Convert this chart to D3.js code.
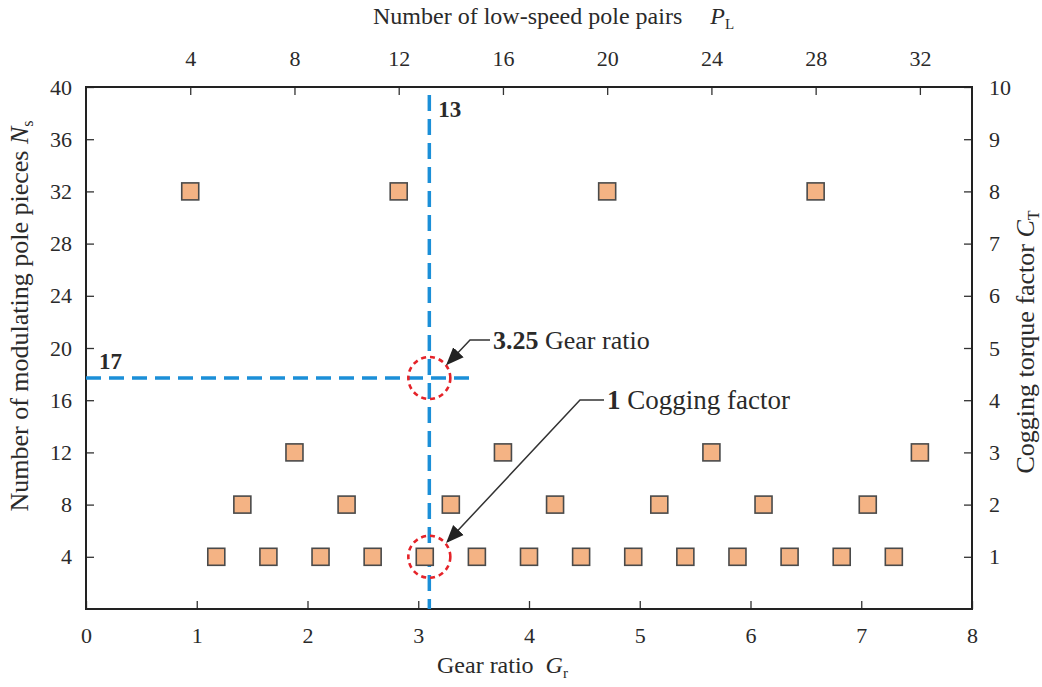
<!DOCTYPE html>
<html><head><meta charset="utf-8">
<script src="https://cdn.jsdelivr.net/npm/d3@7/dist/d3.min.js"></script>
<style>
body{margin:0;background:#fff;}
svg text{font-family:"Liberation Serif","Times New Roman",serif;fill:#2a2a2a;}
</style></head>
<body><svg id="c" width="1042" height="687"></svg>
<script>
// ---- data ----
const gearTicks = [0,1,2,3,4,5,6,7,8];
const plTicks = [4,8,12,16,20,24,28,32];
const nsTicks = [4,8,12,16,20,24,28,32,36,40];
const ctTicks = [1,2,3,4,5,6,7,8,9,10];
// rows of squares: pole pieces Ns and the low-speed pole pairs PL where they sit
const rowNs = [4, 8, 12, 32];
const rowPL = [
  [5,7,9,11,13,15,17,19,21,23,25,27,29,31],
  [6,10,14,18,22,26,30],
  [8,16,24,32],
  [4,12,20,28]
];
const markerGr = 3.1;     // vertical dashed marker (gear ratio axis)
const markerNs = 17.7;    // horizontal dashed marker (pole pieces axis)
const markerLabelV = "13";
const markerLabelH = "17";

// ---- layout ----
const svg = d3.select("#c");
const L=86, R=972, T=87, B=609;
const x = d3.scaleLinear().domain([0,8]).range([L,R]);
const xTop = d3.scaleLinear().domain([0,34]).range([L,R]);
const y = d3.scaleLinear().domain([0,40]).range([B,T]);
const yR = d3.scaleLinear().domain([0,10]).range([B,T]);
const FS = 22, TFS = 24, VFS = 26, AFS = 26;

function styleAxis(g){
  g.select(".domain").remove();
  g.selectAll(".tick line").attr("stroke","#333").attr("stroke-width",1.3);
  g.selectAll(".tick text").attr("font-size",FS).attr("fill","#2a2a2a")
    .attr("font-family","Liberation Serif, serif");
}
svg.append("g").attr("transform",`translate(0,${B})`)
  .call(d3.axisBottom(x).tickValues(gearTicks).tickSizeInner(-8).tickSizeOuter(0).tickPadding(18).tickFormat(d3.format("d")))
  .call(styleAxis);
svg.append("g").attr("transform",`translate(0,${T})`)
  .call(d3.axisTop(xTop).tickValues(plTicks).tickSizeInner(-8).tickSizeOuter(0).tickPadding(21).tickFormat(d3.format("d")))
  .call(styleAxis);
svg.append("g").attr("transform",`translate(${L},0)`)
  .call(d3.axisLeft(y).tickValues(nsTicks).tickSizeInner(-8).tickSizeOuter(0).tickPadding(14).tickFormat(d3.format("d")))
  .call(styleAxis);
svg.append("g").attr("transform",`translate(${R},0)`)
  .call(d3.axisRight(yR).tickValues(ctTicks).tickSizeInner(-8).tickSizeOuter(0).tickPadding(17).tickFormat(d3.format("d")))
  .call(styleAxis);

// frame
svg.append("rect").attr("x",L).attr("y",T).attr("width",R-L).attr("height",B-T)
  .attr("fill","none").attr("stroke","#222").attr("stroke-width",2);

// titles
const tt = svg.append("text").attr("x",373).attr("y",24).attr("font-size",TFS);
tt.append("tspan").text("Number of low-speed pole pairs");
tt.append("tspan").attr("dx",28).attr("font-style","italic").text("P");
tt.append("tspan").attr("font-size",15).attr("dy",5).text("L");

const bt = svg.append("text").attr("x",437).attr("y",673).attr("font-size",TFS);
bt.append("tspan").text("Gear ratio");
bt.append("tspan").attr("dx",12).attr("font-style","italic").text("G");
bt.append("tspan").attr("font-size",15).attr("dy",5).text("r");

const lt = svg.append("text").attr("transform","translate(28,316) rotate(-90)")
  .attr("text-anchor","middle").attr("font-size",VFS);
lt.append("tspan").text("Number of modulating pole pieces ");
lt.append("tspan").attr("font-style","italic").text("N");
lt.append("tspan").attr("font-size",16).attr("dy",5).text("s");

const rt = svg.append("text").attr("transform","translate(1034,342) rotate(-90)")
  .attr("text-anchor","middle").attr("font-size",VFS);
rt.append("tspan").text("Cogging torque factor ");
rt.append("tspan").attr("font-style","italic").text("C");
rt.append("tspan").attr("font-size",16).attr("dy",5).text("T");

// dashed markers
svg.append("line").attr("x1",x(markerGr)).attr("x2",x(markerGr)).attr("y1",95).attr("y2",B)
  .attr("stroke","#1b8fd8").attr("stroke-width",3.5).attr("stroke-dasharray","16,8");
svg.append("line").attr("x1",L).attr("x2",x(3.5)).attr("y1",y(markerNs)).attr("y2",y(markerNs))
  .attr("stroke","#1b8fd8").attr("stroke-width",3.5).attr("stroke-dasharray","15,8");

svg.append("text").attr("x",x(markerGr)+9).attr("y",117).attr("font-size",23).attr("font-weight","bold").text(markerLabelV);
svg.append("text").attr("x",99).attr("y",369).attr("font-size",23).attr("font-weight","bold").text(markerLabelH);

// squares
const pts = [];
rowNs.forEach((ns,i)=>rowPL[i].forEach(pl=>pts.push({pl,ns})));
const S = 17;
svg.append("g").selectAll("rect").data(pts).join("rect")
  .attr("x",d=>xTop(d.pl)-S/2).attr("y",d=>y(d.ns)-S/2)
  .attr("width",S).attr("height",S)
  .attr("fill","#f4b384").attr("stroke","#4a4a4a").attr("stroke-width",1.6);

// red circles
[markerNs, 4].forEach(ns=>{
  svg.append("circle").attr("cx",x(markerGr)).attr("cy",y(ns)).attr("r",21)
    .attr("fill","none").attr("stroke","#e52329").attr("stroke-width",2.6).attr("stroke-dasharray","5,4");
});

// arrows
const defs = svg.append("defs");
defs.append("marker").attr("id","ah").attr("viewBox","0 0 10 10").attr("refX",9).attr("refY",5)
  .attr("markerWidth",18).attr("markerHeight",18).attr("orient","auto")
  .attr("markerUnits","userSpaceOnUse")
  .append("path").attr("d","M0,1 L10,5 L0,9 Z").attr("fill","#222");

const cx = x(markerGr);
svg.append("path").attr("d",`M490,340 L470,340 L${cx+18},${y(markerNs)-14}`)
  .attr("fill","none").attr("stroke","#333").attr("stroke-width",1.5).attr("marker-end","url(#ah)");
svg.append("path").attr("d",`M604,400 L580,400 L${cx+18},${y(4)-15}`)
  .attr("fill","none").attr("stroke","#333").attr("stroke-width",1.5).attr("marker-end","url(#ah)");

const a1 = svg.append("text").attr("x",493).attr("y",349).attr("font-size",AFS);
a1.append("tspan").attr("font-weight","bold").text("3.25");
a1.append("tspan").text(" Gear ratio");
const a2 = svg.append("text").attr("x",607).attr("y",409).attr("font-size",27);
a2.append("tspan").attr("font-weight","bold").text("1");
a2.append("tspan").text(" Cogging factor");
</script></body></html>
